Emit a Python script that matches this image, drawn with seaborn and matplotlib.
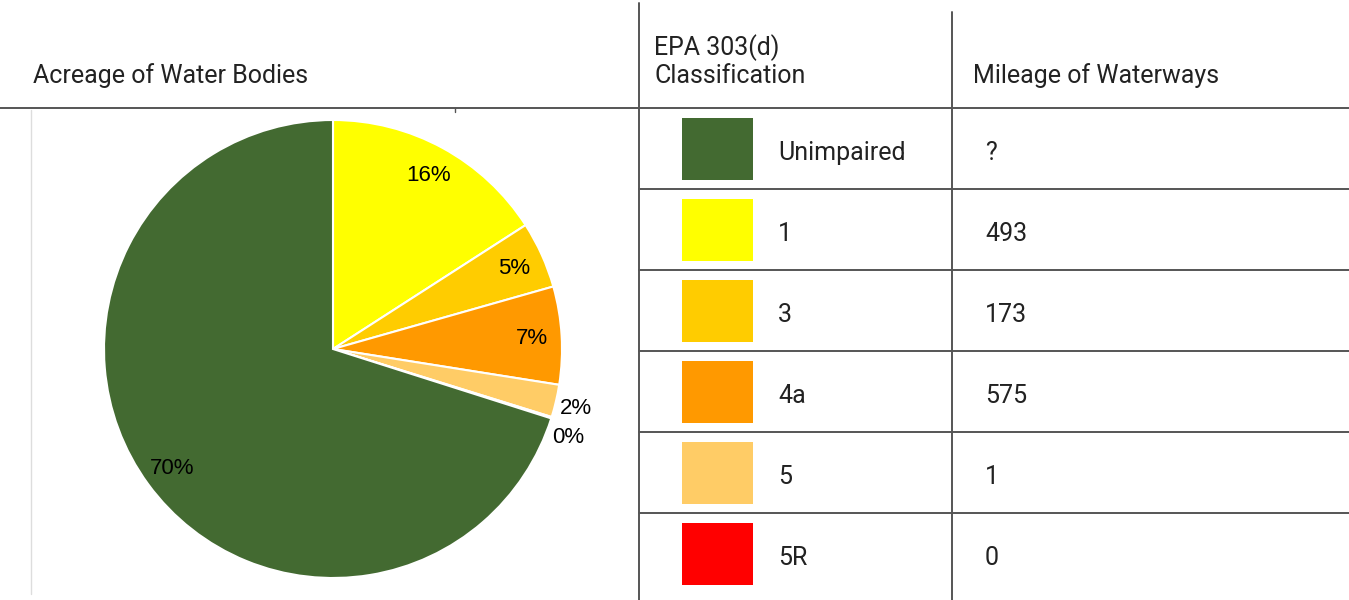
import numpy as np
import matplotlib
matplotlib.use("Agg")
import matplotlib.pyplot as plt
from matplotlib.patches import Rectangle
import seaborn as sns

# ---- data ----
classes = ["Unimpaired", "1", "3", "4a", "5", "5R"]
acreage_pct = [70.1, 15.9, 4.7, 6.9, 2.3, 0.1]
mileage = ["?", "493", "173", "575", "1", "0"]
class_colors = ["#436a31", "#ffff00", "#ffcc00", "#ff9900", "#ffcc66", "#ff0000"]
pie_order = ["1", "3", "4a", "5", "5R", "Unimpaired"]
headers = ["Acreage of Water Bodies", "EPA 303(d)", "Classification", "Mileage of Waterways"]

sns.set_style("white")
plt.rcParams["font.family"] = ["Roboto", "DejaVu Sans"]

W, H = 1349, 600
fig = plt.figure(figsize=(W / 100, H / 100), dpi=100)
fig.patch.set_facecolor("white")

# background / table axes in pixel coordinates
bg = fig.add_axes([0, 0, 1, 1])
bg.set_xlim(0, W)
bg.set_ylim(H, 0)
bg.axis("off")

line_c = "#555555"
txt_c = "#222222"
hdr_fs = 18

# grid lines
bg.plot([0, W], [108, 108], color=line_c, lw=1.4)
bg.plot([639, 639], [3, H], color=line_c, lw=1.4)
bg.plot([952, 952], [12, H], color=line_c, lw=1.4)
bg.plot([31, 31], [110, 594], color="#dddddd", lw=1)
bg.plot([455, 455], [108, 112], color=line_c, lw=1)

row_top = 108
row_h = 81
for i in range(1, len(classes)):
    y = row_top + i * row_h
    bg.plot([639, W], [y, y], color=line_c, lw=1.4)

# headers
bg.text(33, 83, headers[0], fontsize=hdr_fs, color=txt_c, va="baseline", ha="left")
bg.text(654, 55, headers[1], fontsize=hdr_fs, color=txt_c, va="baseline", ha="left")
bg.text(654, 83, headers[2], fontsize=hdr_fs, color=txt_c, va="baseline", ha="left")
bg.text(973, 83, headers[3], fontsize=hdr_fs, color=txt_c, va="baseline", ha="left")

palette = sns.color_palette(class_colors)
for i, (cls, col, mil) in enumerate(zip(classes, palette, mileage)):
    y0 = row_top + i * row_h
    bg.add_patch(Rectangle((682, y0 + 10), 71, 62, facecolor=col, edgecolor="none"))
    bg.text(778, y0 + 52, cls, fontsize=hdr_fs, color=txt_c, va="baseline", ha="left")
    bg.text(985, y0 + 52, mil, fontsize=hdr_fs, color=txt_c, va="baseline", ha="left")

# pie
cx, cy, r = 333, 349, 229
pax = fig.add_axes([(cx - r) / W, (H - cy - r) / H, 2 * r / W, 2 * r / H])
pax.axis("off")
color_map = dict(zip(classes, class_colors))
vals = [acreage_pct[classes.index(c)] for c in pie_order]
cols = [color_map[c] for c in pie_order]
wedges, _ = pax.pie(vals, colors=cols, startangle=90, counterclock=False,
                    radius=1.0, wedgeprops=dict(edgecolor="white", linewidth=1.5))
pax.set_xlim(-1, 1)
pax.set_ylim(-1, 1)
pax.set_aspect("equal")

total = sum(vals)
prev_out = None
for w, v in zip(wedges, vals):
    pct = v / total * 100
    mid = np.deg2rad((w.theta1 + w.theta2) / 2)
    if pct < 3:
        rr = 1.09
        x, y = rr * np.cos(mid), rr * np.sin(mid) - 0.012
        if prev_out is not None and abs(prev_out[1] - y) < 0.11:
            y = prev_out[1] - 0.128
            x = prev_out[0] - 0.035
        prev_out = (x, y)
    else:
        rr = 0.87
        x, y = rr * np.cos(mid), rr * np.sin(mid) - 0.008
    pax.text(x, y, f"{pct:.0f}%", ha="center", va="center", fontsize=16,
             family=["Liberation Sans", "DejaVu Sans"], color="black", clip_on=False)

fig.savefig("out.png", dpi=100, facecolor="white")
